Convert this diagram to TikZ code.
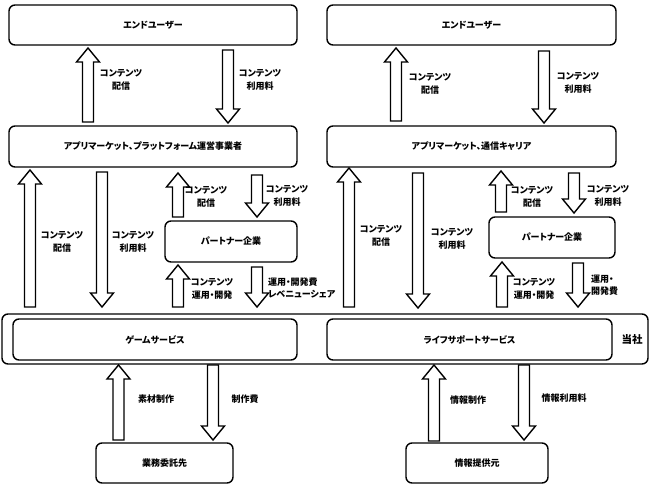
\documentclass[tikz,border=0pt]{standalone}
\usepackage{fontspec}
\setmainfont{Noto Sans CJK JP}[RawFeature=+palt]
\newfontfamily\jp{Noto Sans CJK JP}[RawFeature=+palt]
\begin{document}
\begin{tikzpicture}[x=1pt,y=-1pt,
  box/.style={draw,line width=1.4pt,rounded corners=6pt,inner sep=0pt,font=\jp\fontsize{9}{10}\selectfont\bfseries},
  lab/.style={align=center,inner sep=0pt,font=\jp\fontsize{9}{12.5}\selectfont\bfseries},
  llab/.style={align=left,anchor=west,inner sep=0pt,font=\jp\fontsize{9}{12.5}\selectfont\bfseries},
  barrow/.style={draw,line width=1.4pt,fill=white,line join=miter}]
\useasboundingbox (0,0) rectangle (650,487);
\newcommand\UpArr[3]{\draw[barrow] (#1-5.5,#3) -- (#1-5.5,#2+14) -- (#1-11.5,#2+14) -- (#1,#2) -- (#1+11.5,#2+14) -- (#1+5.5,#2+14) -- (#1+5.5,#3) -- cycle;}
\newcommand\DnArr[3]{\draw[barrow] (#1-5.5,#2) -- (#1-5.5,#3-14) -- (#1-11.5,#3-14) -- (#1,#3) -- (#1+11.5,#3-14) -- (#1+5.5,#3-14) -- (#1+5.5,#2) -- cycle;}
% outer company box
\node[box,minimum width=646pt,minimum height=50pt] (outer) at (325,339) {};
\node[box,minimum width=288pt,minimum height=40pt] (eu1) at (153,25) {エンドユーザー};
\node[box,minimum width=289pt,minimum height=40pt] (eu2) at (471.5,25) {エンドユーザー};
\node[box,minimum width=288pt,minimum height=41pt] (am1) at (153,146.5) {アプリマーケット、プラットフォーム運営事業者};
\node[box,minimum width=289pt,minimum height=41pt] (am2) at (471.5,146.5) {アプリマーケット、通信キャリア};
\node[box,minimum width=132pt,minimum height=41pt] (pt1) at (231,241.5) {パートナー企業};
\node[box,minimum width=126pt,minimum height=41pt] (pt2) at (552,237.5) {パートナー企業};
\node[box,minimum width=284pt,minimum height=41pt] (gs) at (155,339.5) {ゲームサービス};
\node[box,minimum width=285pt,minimum height=41pt] (ls) at (469.5,339.5) {ライフサポートサービス};
\node[lab,font=\jp\fontsize{10.5}{12}\selectfont\bfseries] (ts) at (632,340) {当社};
\node[box,minimum width=137pt,minimum height=40pt] (gk) at (164.5,463) {業務委託先};
\node[box,minimum width=142pt,minimum height=40pt] (jk) at (477,463) {情報提供元};
% arrows
\UpArr{88}{48}{122}
\DnArr{228}{50}{123}
\UpArr{396}{48}{121}
\DnArr{544}{51}{123}
\UpArr{30}{170}{307}
\DnArr{102}{172}{307}
\UpArr{178}{173}{217}
\DnArr{257}{175}{217}
\UpArr{178}{265}{307}
\DnArr{257}{267}{307}
\UpArr{349}{168}{307}
\DnArr{418}{173}{308}
\UpArr{501}{171}{212}
\DnArr{574}{173}{213}
\UpArr{502}{262}{307}
\DnArr{578}{263}{307}
\UpArr{118.5}{365}{440}
\DnArr{213}{365}{440}
\UpArr{434}{365}{441}
\DnArr{524}{365}{440}
% labels
\node[lab] (l1) at (121,80) {コンテンツ\\配信};
\node[lab] (l2) at (260,80) {コンテンツ\\利用料};
\node[lab] (l3) at (430,84) {コンテンツ\\配信};
\node[lab] (l4) at (578,83) {コンテンツ\\利用料};
\node[lab] (l5) at (62,242) {コンテンツ\\配信};
\node[lab] (l6) at (133,242) {コンテンツ\\利用料};
\node[lab] (l7) at (206,197) {コンテンツ\\配信};
\node[lab] (l8) at (287,196) {コンテンツ\\利用料};
\node[lab] (l9) at (212,289) {コンテンツ\\運用・開発};
\node[llab] (l10) at (268,288) {運用・開発費\\レベニューシェア};
\node[lab] (l11) at (381,236) {コンテンツ\\配信};
\node[lab] (l12) at (452,239) {コンテンツ\\利用料};
\node[lab] (l13) at (532,197) {コンテンツ\\配信};
\node[lab] (l14) at (608,196) {コンテンツ\\利用料};
\node[lab] (l15) at (534,289) {コンテンツ\\運用・開発};
\node[llab] (l16) at (591,285) {運用・\\開発費};
\node[lab] (l17) at (156,399) {素材制作};
\node[lab] (l18) at (245,399) {制作費};
\node[lab] (l19) at (468,400) {情報制作};
\node[lab] (l20) at (564,398) {情報利用料};
\end{tikzpicture}
\end{document}
